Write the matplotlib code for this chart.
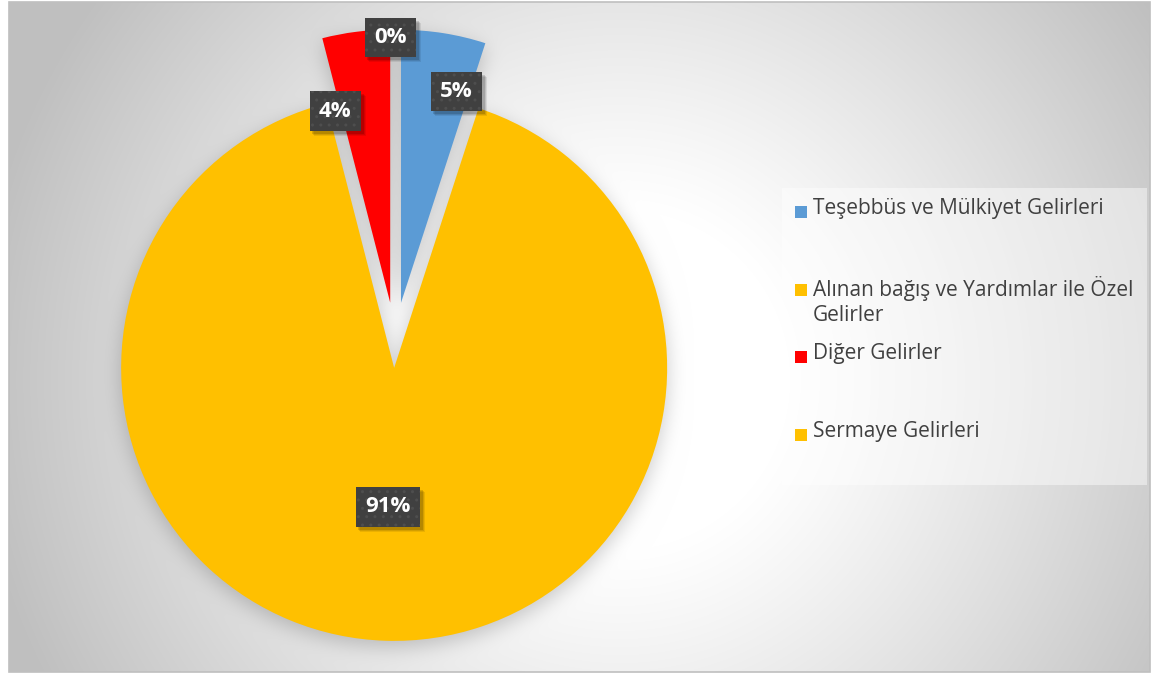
"""
Gelir dağılımı — pasta grafiği (Excel tarzı, patlatılmış dilimler)
"""

import numpy as np
import matplotlib
matplotlib.use("Agg")
import matplotlib.pyplot as plt
import matplotlib.patches as mpatches

# ── Data ──────────────────────────────────────────────────────────────────────
categories = [
    "Teşebbüs ve Mülkiyet Gelirleri",
    "Alınan bağış ve Yardımlar ile Özel\nGelirler",
    "Diğer Gelirler",
    "Sermaye Gelirleri",
]
shares = [5, 91, 4, 0]          # percent
colors = ["#5B9BD5", "#FFC000", "#FF0000", "#FFC000"]
explode_frac = [0.14, 0.10, 0.14, 0.14]   # fraction of radius

# ── Layout (pixels, figure is 1155 x 674) ─────────────────────────────────────
W, H = 1155, 674
PIE_CX, PIE_CY, PIE_R = 395.0, 340.6, 273      # image coords (y down)
# data label placement: (angle deg, distance as fraction of radius) from wedge centre
label_pos = [(75.3, 0.80), (-92.5, 0.51), (106.0, 0.73), (91.0, 0.97)]
LEG_BOX = (782, 188, 1147, 485)
leg_rows = [212, 290, 357, 435]                # centre of first text line

TEXT_COL = "#404040"
LBL_BG = "#404040"

plt.rcParams["hatch.color"] = "#4e4e4e"
plt.rcParams["hatch.linewidth"] = 1.0

fig = plt.figure(figsize=(W / 100, H / 100), dpi=100, facecolor="white")
ax = fig.add_axes([0, 0, 1, 1])


def img_y(y):
    return H - y


# ── Pie ───────────────────────────────────────────────────────────────────────
wedges, _ = ax.pie(shares, colors=colors, startangle=90, counterclock=False,
                   explode=[e * PIE_R for e in explode_frac], radius=PIE_R,
                   center=(PIE_CX, img_y(PIE_CY)),
                   wedgeprops=dict(linewidth=0), frame=True)
for w in wedges:
    w.set_zorder(3)

ax.set_xlim(0, W)
ax.set_ylim(0, H)
ax.set_axis_off()

# ── Background: radial gradient + soft shadow under the pie ───────────────────
x0, x1, y0, y1 = 9, 1150, 2, 672
xs = np.arange(x0, x1) + 0.5
ys = np.arange(y0, y1) + 0.5
XX, YY = np.meshgrid(xs, ys)           # image coords
dist = np.hypot(XX - 620, YY - 380)
grad = 1.0 - 0.25 * np.clip((dist - 170) / 480, 0, 1) ** 1.1

# union mask of wedges (data y -> image y)
mask = np.zeros_like(XX)
for w in wedges:
    cx, cy = w.center
    cy = H - cy
    dx, dy = XX - cx, cy - YY
    rr = np.hypot(dx, dy)
    ang = np.degrees(np.arctan2(dy, dx))
    t1, t2 = w.theta1, w.theta2
    rel = (ang - t1) % 360
    inside = (rr <= w.r) & (rel <= (t2 - t1))
    mask[inside] = 1.0


def box_blur(a, r, axis):
    pad = [(0, 0), (0, 0)]
    pad[axis] = (r + 1, r)
    c = np.cumsum(np.pad(a, pad, mode="edge"), axis=axis)
    n = a.shape[axis]
    hi = np.take(c, np.arange(2 * r + 1, 2 * r + 1 + n), axis=axis)
    lo = np.take(c, np.arange(0, n), axis=axis)
    return (hi - lo) / (2 * r + 1)


shadow = np.roll(mask, 6, axis=0)
for _ in range(3):
    shadow = box_blur(shadow, 9, 0)
    shadow = box_blur(shadow, 9, 1)

bg = grad * (1 - 0.20 * shadow)
bg_rgb = np.dstack([bg, bg, bg])
ax.imshow(bg_rgb, extent=(x0, x1, img_y(y1), img_y(y0)), origin="upper",
          interpolation="bilinear", zorder=0, aspect="auto")
ax.add_patch(mpatches.Rectangle((x0, img_y(y1)), x1 - x0, y1 - y0, fill=False,
                                edgecolor="#bfbfbf", linewidth=1.2, zorder=1))

# ── Data labels ───────────────────────────────────────────────────────────────
labels = []
for w, val, (ang, frac) in zip(wedges, shares, label_pos):
    cx, cy = w.center
    px = cx + frac * PIE_R * np.cos(np.radians(ang))
    py = cy + frac * PIE_R * np.sin(np.radians(ang))
    t = ax.text(px, py, f"{val:.0f}%", ha="center", va="center", fontsize=16,
                fontweight="bold", color="white", family="Open Sans",
                bbox=dict(boxstyle="square,pad=0.42", facecolor=LBL_BG,
                          edgecolor="#4e4e4e", linewidth=0, hatch=".."),
                zorder=6)
    labels.append(t)

# soft drop shadow behind each label box
fig.canvas.draw()
renderer = fig.canvas.get_renderer()
for t in labels:
    bb = t.get_bbox_patch().get_window_extent(renderer)
    for k, a in [(5, 0.08), (4, 0.10), (3, 0.14)]:
        ax.add_patch(mpatches.Rectangle((bb.x0 + k - 1, bb.y0 - k), bb.width + 1,
                                        bb.height, facecolor="black", alpha=a,
                                        edgecolor="none", zorder=5,
                                        transform=None))

# ── Legend ────────────────────────────────────────────────────────────────────
lx0, ly0, lx1, ly1 = LEG_BOX
ax.add_patch(mpatches.Rectangle((lx0, img_y(ly1)), lx1 - lx0, ly1 - ly0,
                                facecolor="white", alpha=0.45,
                                edgecolor="none", zorder=2))
for lab, col, yc in zip(categories, colors, leg_rows):
    ax.add_patch(mpatches.Rectangle((795, img_y(yc + 6)), 12, 12,
                                    facecolor=col, edgecolor="none", zorder=4))
    ax.text(813, img_y(yc - 14), lab, ha="left", va="top", fontsize=15,
            color=TEXT_COL, family="Open Sans", linespacing=1.25, zorder=4)

fig.savefig("out.png", dpi=100, facecolor="white")
